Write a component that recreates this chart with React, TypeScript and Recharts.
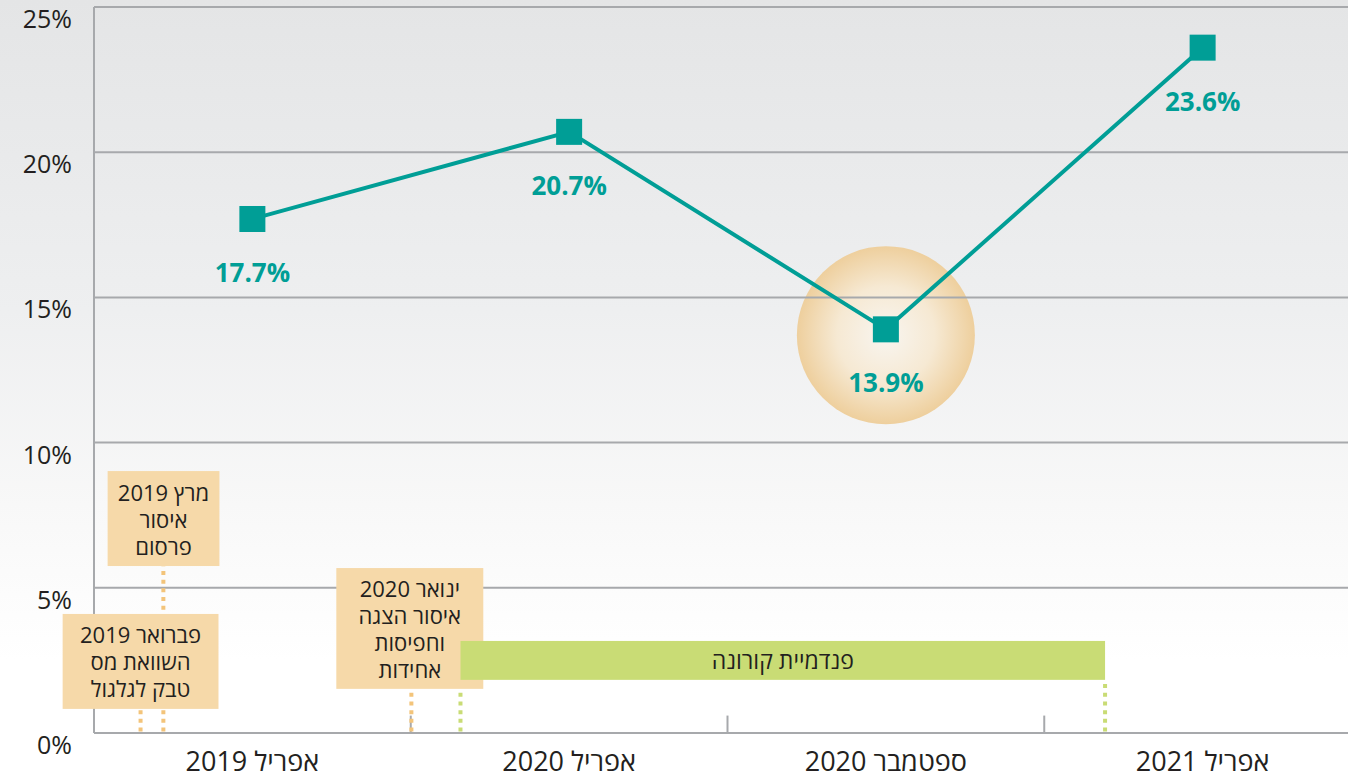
import React from 'react';
import {
  LineChart,
  Line,
  XAxis,
  YAxis,
  CartesianGrid,
  ReferenceArea,
  ReferenceLine,
  ReferenceDot,
  LabelList,
} from 'recharts';

// ---- data ----
const categories = ['אפריל 2019', 'אפריל 2020', 'ספטמבר 2020', 'אפריל 2021'];
const shareValues = [17.7, 20.7, 13.9, 23.6];
const yTicks = [0, 5, 10, 15, 20, 25];

// timeline annotations (positions in timeline units: 1 unit = 1 category band)
const eventTexts = [
  ['מרץ 2019', 'איסור', 'פרסום'],
  ['פברואר 2019', 'השוואת מס', 'טבק לגלגול'],
  ['ינואר 2020', 'איסור הצגה', 'וחפיסות', 'אחידות'],
];
const eventX = [
  [0.043, 0.396],
  [-0.099, 0.393],
  [0.765, 1.229],
];
const eventY = [
  [5.75, 9.02],
  [0.83, 4.1],
  [1.52, 5.68],
];
const eventMarkerX = [0.219, 0.147, 1.002];
const eventMarkerTop = [5.75, 0.83, 1.52];

const pandemicText = 'פנדמיית קורונה';
const pandemicX = [1.157, 3.192];
const pandemicY = [1.83, 3.17];

const bandTicks = [1, 2, 3];
const highlightIndex = 2;
const highlightY = 13.7;

// each category sits at the centre of its band on the timeline axis
const categoryPos = categories.map((_, i) => i + 0.5);
const data = categories.map((c, i) => ({ name: c, pos: categoryPos[i], value: shareValues[i] }));

// ---- styles ----
const TEAL = '#009e96';
const GRID = '#a7a9ac';
const TAN = '#f6d9a9';
const TAN_DOT = '#f3c47a';
const GREEN = '#c9dc75';
const TEXT = '#231f20';
const FONT = "'Open Sans', 'DejaVu Sans', sans-serif";

const SquareDot = (props: any) => {
  const { cx, cy, index } = props;
  if (cx == null || cy == null) return null;
  return <rect key={`sq-${index}`} x={cx - 13} y={cy - 13} width={26} height={26} fill={TEAL} />;
};

const ValueLabel = (props: any) => {
  const { x, y, value } = props;
  return (
    <text
      x={x}
      y={y + 53}
      textAnchor="middle"
      dominantBaseline="central"
      fill={TEAL}
      fontSize={26}
      fontWeight={700}
      fontFamily={FONT}
    >
      {`${value}%`}
    </text>
  );
};

const YTick = (props: any) => {
  const { x, y, payload } = props;
  return (
    <text
      x={x}
      y={y + 11}
      textAnchor="end"
      dominantBaseline="central"
      fill={TEXT}
      fontSize={25}
      fontFamily={FONT}
    >
      {`${payload.value}%`}
    </text>
  );
};

const XTick = (props: any) => {
  const { x, y, payload } = props;
  const idx = categoryPos.indexOf(payload.value);
  return (
    <text
      x={x}
      y={y + 19}
      textAnchor="middle"
      dominantBaseline="central"
      direction="rtl"
      fill={TEXT}
      fontSize={27}
      fontFamily={FONT}
    >
      {idx >= 0 ? categories[idx] : ''}
    </text>
  );
};

const makeBoxShape = (lines: string[], fill: string, fontSize: number, lineH: number) => (props: any) => {
  const { x, y, width, height } = props;
  const cx = x + width / 2;
  const cy = y + height / 2;
  const first = cy - ((lines.length - 1) * lineH) / 2;
  return (
    <g>
      <rect x={x} y={y} width={width} height={height} fill={fill} />
      {lines.map((l, i) => (
        <text
          key={i}
          x={cx}
          y={first + i * lineH}
          textAnchor="middle"
          dominantBaseline="central"
          direction="rtl"
          fill={TEXT}
          fontSize={fontSize}
          fontFamily={FONT}
        >
          {l}
        </text>
      ))}
    </g>
  );
};

const HighlightCircle = (props: any) => {
  const { cx, cy } = props;
  return (
    <g>
      <defs>
        <radialGradient id="hlGrad" cx="50%" cy="50%" r="50%">
          <stop offset="0%" stopColor="#f8f5f0" />
          <stop offset="55%" stopColor="#f6e9d3" />
          <stop offset="100%" stopColor="#eecf9d" />
        </radialGradient>
      </defs>
      <circle cx={cx} cy={cy} r={89} fill="url(#hlGrad)" />
    </g>
  );
};

export default function App() {
  return (
    <div
      style={{
        position: 'absolute',
        left: 0,
        top: 0,
        width: 1348,
        height: 777,
        overflow: 'hidden',
        background: 'linear-gradient(to bottom, #e4e5e6 0%, #eeeff0 40%, #f8f8f8 65%, #ffffff 85%)',
      }}
    >
      <LineChart width={1361} height={777} data={data} margin={{ top: 7, right: 0, bottom: 0, left: 0 }}>
        <XAxis
          dataKey="pos"
          type="number"
          domain={[0, 4]}
          allowDataOverflow
          ticks={categoryPos}
          height={44}
          tickLine={false}
          axisLine={{ stroke: GRID, strokeWidth: 2 }}
          tick={<XTick />}
          interval={0}
        />
        <YAxis
          domain={[0, 25]}
          ticks={yTicks}
          width={94}
          tickLine={false}
          tickSize={0}
          tickMargin={22}
          axisLine={{ stroke: GRID, strokeWidth: 2 }}
          tick={<YTick />}
          interval={0}
        />
        <ReferenceDot
          x={categoryPos[highlightIndex]}
          y={highlightY}
          r={89}
          shape={HighlightCircle}
          ifOverflow="visible"
          zIndex={-150}
        />
        <CartesianGrid vertical={false} stroke={GRID} strokeWidth={2} />

        {bandTicks.map((t) => (
          <ReferenceLine
            key={`bt-${t}`}
            segment={[{ x: t, y: 0 }, { x: t, y: 0.6 }]}
            stroke={GRID}
            strokeWidth={2}
            ifOverflow="visible"
            zIndex={540}
          />
        ))}

        {eventMarkerX.map((x, i) => (
          <ReferenceLine
            key={`em-${i}`}
            segment={[{ x, y: 0.05 }, { x, y: eventMarkerTop[i] }]}
            stroke={TAN_DOT}
            strokeWidth={4}
            strokeDasharray="4 4.7"
            ifOverflow="visible"
            zIndex={540}
          />
        ))}
        {pandemicX.map((x, i) => (
          <ReferenceLine
            key={`pm-${i}`}
            segment={[{ x, y: 0.05 }, { x, y: pandemicY[0] }]}
            stroke={GREEN}
            strokeWidth={4}
            strokeDasharray="4 4.7"
            ifOverflow="visible"
            zIndex={540}
          />
        ))}

        {eventTexts.map((lines, i) => (
          <ReferenceArea
            key={`ev-${i}`}
            x1={eventX[i][0]}
            x2={eventX[i][1]}
            y1={eventY[i][0]}
            y2={eventY[i][1]}
            ifOverflow="visible"
            shape={makeBoxShape(lines, TAN, 22, 27)}
            zIndex={550}
          />
        ))}
        <ReferenceArea
          x1={pandemicX[0]}
          x2={pandemicX[1]}
          y1={pandemicY[0]}
          y2={pandemicY[1]}
          ifOverflow="visible"
          shape={makeBoxShape([pandemicText], GREEN, 23, 27)}
          zIndex={560}
        />

        <Line
          dataKey="value"
          stroke={TEAL}
          strokeWidth={4}
          dot={<SquareDot />}
          activeDot={false}
          isAnimationActive={false}
        >
          <LabelList dataKey="value" content={<ValueLabel />} />
        </Line>
      </LineChart>
    </div>
  );
}
